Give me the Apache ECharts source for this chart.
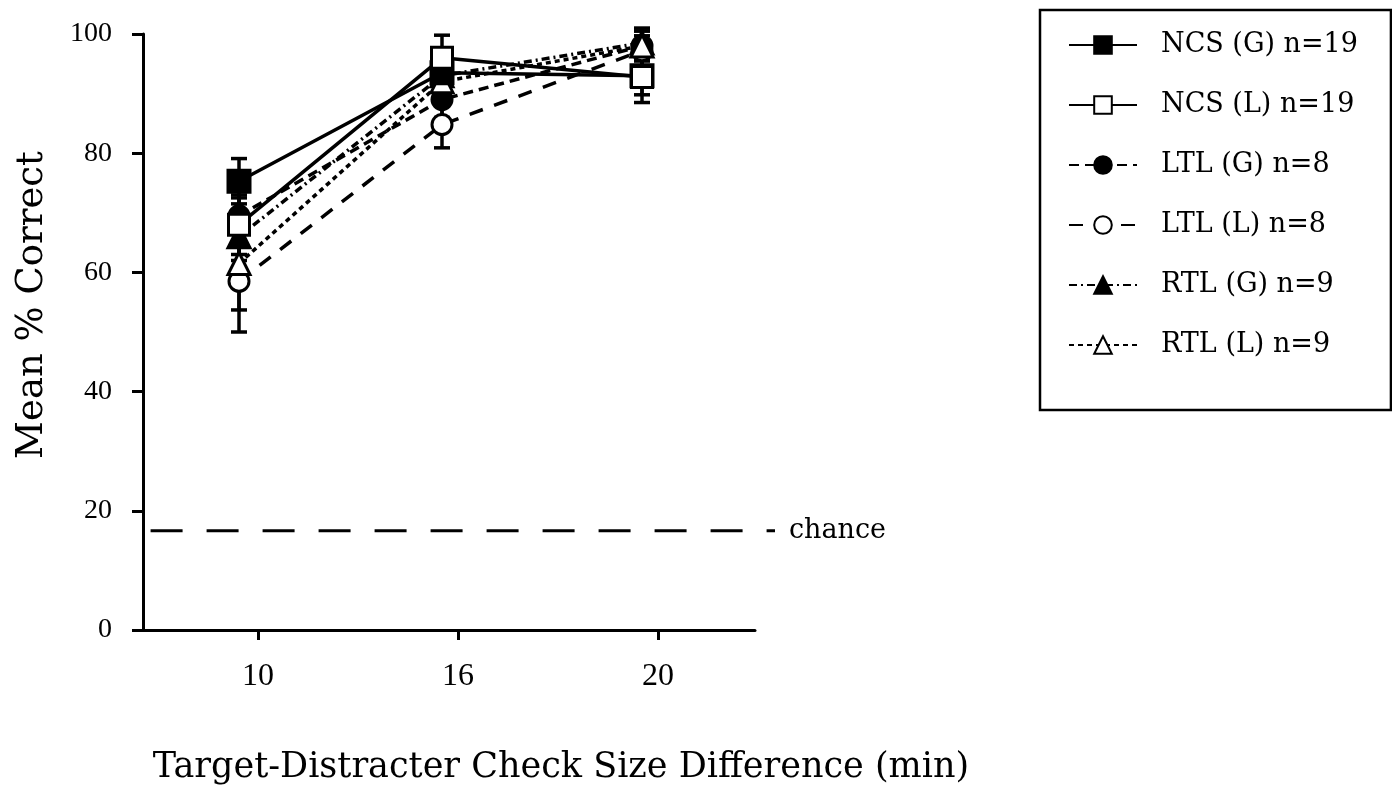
<!DOCTYPE html>
<html><head><meta charset="utf-8">
<script src="https://cdn.jsdelivr.net/npm/echarts@6/dist/echarts.min.js"></script>
<style>html,body{margin:0;padding:0;background:#fff}#c{width:1392px;height:786px}</style>
</head><body><div id="c"></div>
<script>
// ---- data ----
const categories = ['10', '16', '20'];          // tick labels (Target-Distracter check size difference, min)
const xPositions = [-0.095, 0.92, 1.92];        // plotted positions of the points relative to the category ticks (0,1,2)
const yTicks = [0, 20, 40, 60, 80, 100];
const chanceLevel = 16.67;

const ncsG = [75.3, 93.5, 93.0];  const ncsGErr = [3.8, 2.5, 4.5];
const ncsL = [68.0, 96.0, 92.8];  const ncsLErr = [5.0, 3.8, 3.0];
const ltlG = [69.5, 89.0, 98.0];  const ltlGErr = [3.0, 3.0, 2.5];
const ltlL = [58.5, 84.8, 97.2];  const ltlLErr = [8.5, 3.9, 2.5];
const rtlG = [66.0, 93.0, 98.5];  const rtlGErr = [4.0, 3.0, 2.5];
const rtlL = [61.5, 92.0, 98.0];  const rtlLErr = [7.8, 3.0, 2.5];

const seriesNames = ['NCS (G) n=19', 'NCS (L) n=19', 'LTL (G) n=8', 'LTL (L) n=8', 'RTL (G) n=9', 'RTL (L) n=9'];
const seriesValues = [ncsG, ncsL, ltlG, ltlL, rtlG, rtlL];
const seriesErrors = [ncsGErr, ncsLErr, ltlGErr, ltlLErr, rtlGErr, rtlLErr];

// ---- styles ----
const styles = [
  {symbol: 'rect', size: 22, fill: '#000', dash: 'solid'},
  {symbol: 'rect', size: 21, fill: '#fff', dash: 'solid'},
  {symbol: 'circle', size: 20, fill: '#000', dash: [10, 6]},
  {symbol: 'circle', size: 20, fill: '#fff', dash: [14, 12]},
  {symbol: 'triangle', size: 22, fill: '#000', dash: [8, 4, 2, 4]},
  {symbol: 'triangle', size: 22, fill: '#fff', dash: [5, 4]}
];

const serifFont = 'DejaVu Serif';

const chart = echarts.init(document.getElementById('c'), null, {renderer: 'canvas'});

const series = [];
// error bars
const errData = [];
seriesValues.forEach((vals, si) => {
  vals.forEach((v, i) => {
    errData.push([xPositions[i], v - seriesErrors[si][i], v + seriesErrors[si][i]]);
  });
});
series.push({
  type: 'custom',
  xAxisIndex: 0, yAxisIndex: 0,
  z: 1,
  silent: true,
  data: errData,
  renderItem: function (params, api) {
    const x = api.value(0), lo = api.value(1), hi = api.value(2);
    const pLo = api.coord([x, lo]), pHi = api.coord([x, hi]);
    const cap = 8;
    const st = {stroke: '#000', lineWidth: 3.5};
    return {type: 'group', children: [
      {type: 'line', shape: {x1: pLo[0], y1: pLo[1], x2: pHi[0], y2: pHi[1]}, style: st},
      {type: 'line', shape: {x1: pLo[0] - cap, y1: pLo[1], x2: pLo[0] + cap, y2: pLo[1]}, style: st},
      {type: 'line', shape: {x1: pHi[0] - cap, y1: pHi[1], x2: pHi[0] + cap, y2: pHi[1]}, style: st}
    ]};
  }
});

seriesNames.forEach((name, si) => {
  const s = styles[si];
  series.push({
    name: name,
    type: 'line',
    xAxisIndex: 0, yAxisIndex: 0,
    z: 3 + (si < 2 ? 1 : 0),
    clip: false,
    data: seriesValues[si].map((v, i) => [xPositions[i], v]),
    symbol: s.symbol,
    symbolSize: s.size,
    showAllSymbol: true,
    lineStyle: {color: '#000', width: 3.5, type: s.dash},
    itemStyle: {color: s.fill, borderColor: '#000', borderWidth: 3},
    emphasis: {disabled: true},
    animation: false
  });
});

// chance reference line
series.push({
  name: 'chance',
  type: 'line',
  xAxisIndex: 1, yAxisIndex: 1,
  clip: false,
  symbol: 'none',
  silent: true,
  data: [[0.012, chanceLevel], [1, chanceLevel]],
  lineStyle: {color: '#000', width: 3, type: [32, 24]},
  endLabel: {show: true, formatter: 'chance', color: '#000', fontFamily: serifFont, fontSize: 27, distance: 14},
  animation: false
});

chart.setOption({
  animation: false,
  backgroundColor: '#fff',
  grid: [
    {left: 143, right: 637, top: 34, bottom: 156, containLabel: false},
    {left: 143, right: 617, top: 34, bottom: 156, containLabel: false}
  ],
  xAxis: [
    {
      type: 'value', gridIndex: 0,
      min: -0.575, max: 2.485,
      axisLine: {show: true, onZero: false, lineStyle: {color: '#000', width: 3}},
      axisTick: {show: true, customValues: [0, 1, 2], length: 10, lineStyle: {color: '#000', width: 3}},
      axisLabel: {show: true, customValues: [0, 1, 2], margin: 31, color: '#000', fontFamily: 'Liberation Serif', fontSize: 32,
        formatter: function (v) { return categories[Math.round(v)]; }},
      splitLine: {show: false}
    },
    {type: 'value', gridIndex: 1, min: 0, max: 1, show: false}
  ],
  yAxis: [
    {
      type: 'value', gridIndex: 0, min: 0, max: 100, interval: 20,
      axisLine: {show: true, onZero: false, lineStyle: {color: '#000', width: 3}},
      axisTick: {show: true, length: 11, lineStyle: {color: '#000', width: 3}},
      axisLabel: {margin: 31, color: '#000', fontFamily: 'Liberation Serif', fontSize: 28,
        formatter: function (v) { return yTicks.indexOf(v) >= 0 ? String(v) : ''; }},
      splitLine: {show: false}
    },
    {type: 'value', gridIndex: 1, min: 0, max: 100, show: false}
  ],
  legend: {
    orient: 'vertical',
    left: 1040, top: 10,
    padding: [20, 33, 50, 28],
    itemGap: 30,
    itemWidth: 68, itemHeight: 22,
    borderColor: '#000', borderWidth: 2.5,
    data: seriesNames,
    selectedMode: false,
    textStyle: {color: '#000', fontFamily: serifFont, fontSize: 27, lineHeight: 30, padding: [0, 0, 0, 19]}
  },
  graphic: [
    {type: 'text', x: 32, y: 305, rotation: Math.PI / 2,
      style: {text: 'Mean % Correct', fill: '#000', font: '37px "DejaVu Serif"', textAlign: 'center', textVerticalAlign: 'middle'}},
    {type: 'text', x: 561, y: 768,
      style: {text: 'Target-Distracter Check Size Difference (min)', fill: '#000', font: '35px "DejaVu Serif"', textAlign: 'center', textVerticalAlign: 'middle'}}
  ],
  series: series
});
</script>
</body></html>
